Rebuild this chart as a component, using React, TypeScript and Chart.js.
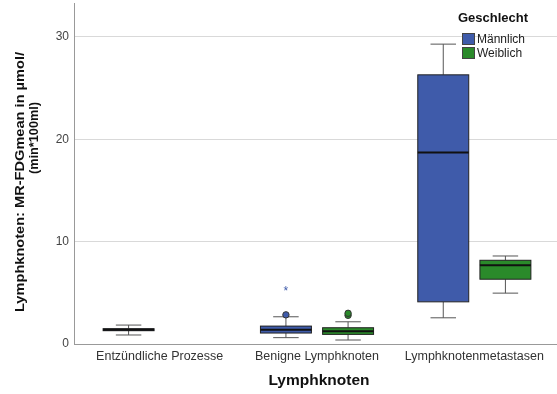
import React, { useEffect, useRef } from "react";
import { Chart, registerables } from "chart.js";

Chart.register(...registerables);

const categories = ["Entzündliche Prozesse", "Benigne Lymphknoten", "Lymphknotenmetastasen"];
const seriesNames = ["Männlich", "Weiblich"];
const seriesColors = ["#3F5BAA", "#2A8A2A"];
const yTicks = [0, 10, 20, 30];
const yTitleLines = ["Lymphknoten: MR-FDGmean in µmol/", "(min*100ml)"];
const xTitle = "Lymphknoten";
const legendTitle = "Geschlecht";

// [whiskerLow, q1, median, q3, whiskerHigh] per category (null = no data)
const maleStats: (number[] | null)[] = [
  [0.88, 1.3, 1.4, 1.5, 1.85],
  [0.62, 1.07, 1.4, 1.75, 2.66],
  [2.56, 4.12, 18.7, 26.3, 29.3],
];
const femaleStats: (number[] | null)[] = [
  null,
  [0.39, 0.94, 1.25, 1.59, 2.17],
  [4.97, 6.33, 7.69, 8.18, 8.6],
];
// outliers: [categoryIndex, value, type]
const maleOutliers: [number, number, string][] = [
  [1, 2.85, "circle"],
  [1, 5.26, "star"],
];
const femaleOutliers: [number, number, string][] = [
  [1, 2.8, "circle"],
  [1, 3.0, "circle"],
];

const allStats = [maleStats, femaleStats];
const allOutliers = [maleOutliers, femaleOutliers];
const FONT = "'Liberation Sans', Arial, sans-serif";
const OFF = 9; // canvas is shifted up by this many px

const insetPlugin = {
  id: "xInset",
  afterLayout(chart: any) {
    const x = chart.scales.x;
    x._startPixel = x.left + 7;
    x._endPixel = x.right - 4;
    x._length = x._endPixel - x._startPixel;
  },
};

const boxPlugin = {
  id: "boxExtras",
  afterDatasetsDraw(chart: any) {
    const ctx = chart.ctx;
    const y = chart.scales.y;
    ctx.save();
    allStats.forEach((stats, di) => {
      const meta = chart.getDatasetMeta(di);
      stats.forEach((s, ci) => {
        if (!s) return;
        const el = meta.data[ci];
        if (!el) return;
        const cx = el.x;
        const w = el.width;
        const half = w / 2;
        const capHalf = w / 4;
        ctx.strokeStyle = "#555";
        ctx.lineWidth = 1;
        const yLow = y.getPixelForValue(s[0]);
        const yQ1 = y.getPixelForValue(s[1]);
        const yQ3 = y.getPixelForValue(s[3]);
        const yHigh = y.getPixelForValue(s[4]);
        ctx.beginPath();
        ctx.moveTo(cx, yQ1);
        ctx.lineTo(cx, yLow);
        ctx.moveTo(cx - capHalf, yLow);
        ctx.lineTo(cx + capHalf, yLow);
        ctx.moveTo(cx, yQ3);
        ctx.lineTo(cx, yHigh);
        ctx.moveTo(cx - capHalf, yHigh);
        ctx.lineTo(cx + capHalf, yHigh);
        ctx.stroke();
        ctx.strokeStyle = "#222";
        ctx.strokeRect(cx - half, Math.min(yQ1, yQ3), w, Math.abs(yQ1 - yQ3));
        ctx.strokeStyle = "#111";
        ctx.lineWidth = 2;
        const yMed = y.getPixelForValue(s[2]);
        ctx.beginPath();
        ctx.moveTo(cx - half, yMed);
        ctx.lineTo(cx + half, yMed);
        ctx.stroke();
      });
      allOutliers[di].forEach(([ci, v, type]) => {
        const el = meta.data[ci];
        if (!el) return;
        const cx = el.x;
        const py = y.getPixelForValue(v);
        if (type === "circle") {
          ctx.fillStyle = seriesColors[di];
          ctx.strokeStyle = "#333";
          ctx.lineWidth = 1;
          ctx.beginPath();
          ctx.arc(cx, py, 3.2, 0, Math.PI * 2);
          ctx.fill();
          ctx.stroke();
        } else {
          ctx.fillStyle = seriesColors[di];
          ctx.font = `12px ${FONT}`;
          ctx.textAlign = "center";
          ctx.textBaseline = "middle";
          ctx.fillText("*", cx, py + 2);
        }
      });
    });
    ctx.translate(0, OFF);
    // legend
    const lx = 462;
    ctx.fillStyle = "#111";
    ctx.font = `bold 13px ${FONT}`;
    ctx.textAlign = "left";
    ctx.textBaseline = "middle";
    ctx.fillText(legendTitle, 458, 18);
    seriesNames.forEach((n, i) => {
      const ty = 33 + i * 14;
      ctx.fillStyle = seriesColors[i];
      ctx.fillRect(lx, ty, 13, 12);
      ctx.strokeStyle = "#444";
      ctx.lineWidth = 1;
      ctx.strokeRect(lx + 0.5, ty + 0.5, 12, 11);
      ctx.fillStyle = "#222";
      ctx.font = `12px ${FONT}`;
      ctx.fillText(n, lx + 15, ty + 6.5);
    });
    // y axis title
    ctx.fillStyle = "#111";
    ctx.font = `bold 13px ${FONT}`;
    ctx.textAlign = "center";
    ctx.textBaseline = "middle";
    const lineCenters = [
      { x: 20, y: 182, w: 260 },
      { x: 34, y: 138, w: 72 },
    ];
    yTitleLines.forEach((t, i) => {
      const c = lineCenters[i];
      const natural = ctx.measureText(t).width;
      const sx = c.w / natural;
      ctx.save();
      ctx.translate(c.x, c.y);
      ctx.rotate(-Math.PI / 2);
      ctx.scale(sx, 1);
      ctx.fillText(t, 0, 0);
      ctx.restore();
    });
    // x axis title
    ctx.font = `bold 15.5px ${FONT}`;
    ctx.fillText(xTitle, 319, 381);
    ctx.restore();
  },
};

export default function App() {
  const ref = useRef<HTMLCanvasElement>(null);
  useEffect(() => {
    document.body.style.margin = "0";
    const chart = new Chart(ref.current!, {
      type: "bar",
      data: {
        labels: categories,
        datasets: allStats.map((stats, i) => ({
          label: seriesNames[i],
          data: stats.map((s) => (s ? [s[1], s[3]] : null)) as any,
          backgroundColor: seriesColors[i],
          borderWidth: 0,
          barPercentage: 0.82,
          categoryPercentage: 0.79,
        })),
      },
      options: {
        animation: false,
        responsive: false,
        maintainAspectRatio: false,
        layout: { padding: 0 },
        plugins: { legend: { display: false }, tooltip: { enabled: false } },
        scales: {
          x: {
            grid: { display: false, drawTicks: false },
            border: { color: "#999" },
            ticks: {
              color: "#333",
              padding: 5,
              maxRotation: 0,
              font: { family: FONT, size: 12.5 },
            },
            afterFit: (s: any) => {
              s.height = 50;
            },
          },
          y: {
            min: 0,
            max: 33.3,
            grid: { color: "#d9d9d9", drawTicks: false },
            border: { color: "#999" },
            afterBuildTicks: (s: any) => {
              s.ticks = yTicks.map((v) => ({ value: v }));
            },
            ticks: {
              color: "#444",
              padding: 5,
              font: { family: FONT, size: 12 },
            },
            afterFit: (s: any) => {
              s.width = 74;
            },
          },
        },
      },
      plugins: [insetPlugin, boxPlugin],
    });
    return () => chart.destroy();
  }, []);
  return (
    <div style={{ position: "fixed", left: 0, top: 0, width: 557, height: 394, overflow: "hidden", background: "#fff" }}>
      <canvas
        ref={ref}
        width={557}
        height={394 + OFF}
        style={{ position: "absolute", left: 0, top: -OFF, display: "block" }}
      />
    </div>
  );
}
